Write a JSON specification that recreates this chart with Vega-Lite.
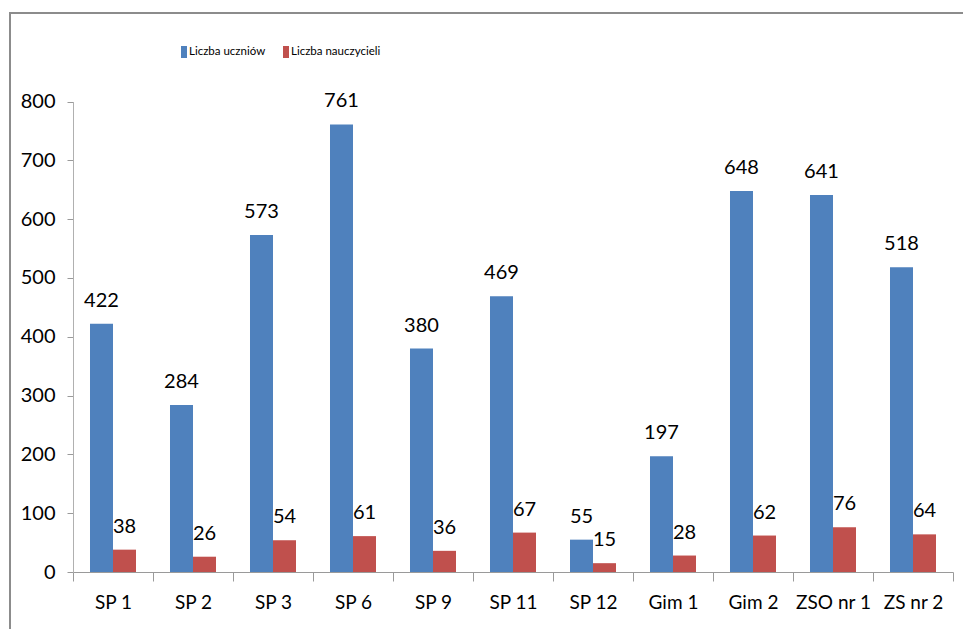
{
  "$schema": "https://vega.github.io/schema/vega-lite/v6.json",
  "autosize": "none",
  "padding": {"left": 10, "top": 13, "right": 0, "bottom": 0},
  "width": 953,
  "height": 616,
  "background": "white",
  "config": {
    "view": {"stroke": "#8c8c8c", "strokeWidth": 2, "strokeDash": [953, 1569, 616]},
    "font": "Lato, sans-serif"
  },
  "data": {
    "values": [
      {"szkola": "SP 1", "seria": "Liczba uczniów", "wartosc": 422},
      {"szkola": "SP 1", "seria": "Liczba nauczycieli", "wartosc": 38},
      {"szkola": "SP 2", "seria": "Liczba uczniów", "wartosc": 284},
      {"szkola": "SP 2", "seria": "Liczba nauczycieli", "wartosc": 26},
      {"szkola": "SP 3", "seria": "Liczba uczniów", "wartosc": 573},
      {"szkola": "SP 3", "seria": "Liczba nauczycieli", "wartosc": 54},
      {"szkola": "SP 6", "seria": "Liczba uczniów", "wartosc": 761},
      {"szkola": "SP 6", "seria": "Liczba nauczycieli", "wartosc": 61},
      {"szkola": "SP 9", "seria": "Liczba uczniów", "wartosc": 380},
      {"szkola": "SP 9", "seria": "Liczba nauczycieli", "wartosc": 36},
      {"szkola": "SP 11", "seria": "Liczba uczniów", "wartosc": 469},
      {"szkola": "SP 11", "seria": "Liczba nauczycieli", "wartosc": 67},
      {"szkola": "SP 12", "seria": "Liczba uczniów", "wartosc": 55},
      {"szkola": "SP 12", "seria": "Liczba nauczycieli", "wartosc": 15},
      {"szkola": "Gim 1", "seria": "Liczba uczniów", "wartosc": 197},
      {"szkola": "Gim 1", "seria": "Liczba nauczycieli", "wartosc": 28},
      {"szkola": "Gim 2", "seria": "Liczba uczniów", "wartosc": 648},
      {"szkola": "Gim 2", "seria": "Liczba nauczycieli", "wartosc": 62},
      {"szkola": "ZSO nr 1", "seria": "Liczba uczniów", "wartosc": 641},
      {"szkola": "ZSO nr 1", "seria": "Liczba nauczycieli", "wartosc": 76},
      {"szkola": "ZS nr 2", "seria": "Liczba uczniów", "wartosc": 518},
      {"szkola": "ZS nr 2", "seria": "Liczba nauczycieli", "wartosc": 64}
    ]
  },
  "encoding": {
    "x": {
      "field": "szkola",
      "type": "nominal",
      "sort": null,
      "scale": {"paddingInner": 0, "paddingOuter": 0, "range": [63, 943]},
      "axis": {
        "title": null,
        "offset": -57,
        "tickBand": "extent",
        "tickSize": 9,
        "tickColor": "#9a9a9a",
        "domainColor": "#9a9a9a",
        "labelAngle": 0,
        "labelFontSize": 19,
        "labelColor": "#000000",
        "labelPadding": 12
      }
    },
    "xOffset": {
      "field": "seria",
      "type": "nominal",
      "sort": ["Liczba uczniów", "Liczba nauczycieli"],
      "scale": {"paddingInner": 0, "paddingOuter": 0.739}
    },
    "y": {
      "field": "wartosc",
      "type": "quantitative",
      "scale": {"domain": [0, 800], "nice": false, "range": [559, 88.5]},
      "axis": {
        "title": null,
        "offset": -63,
        "values": [0, 100, 200, 300, 400, 500, 600, 700, 800],
        "grid": false,
        "tickSize": 6,
        "tickColor": "#9a9a9a",
        "domainColor": "#b0b0b0",
        "labelFontSize": 20,
        "labelColor": "#000000",
        "labelPadding": 12
      }
    }
  },
  "layer": [
    {
      "mark": {"type": "bar"},
      "encoding": {
        "color": {
          "field": "seria",
          "type": "nominal",
          "sort": ["Liczba uczniów", "Liczba nauczycieli"],
          "scale": {"domain": ["Liczba uczniów", "Liczba nauczycieli"], "range": ["#4F81BD", "#C0504D"]},
          "legend": {
            "title": null,
            "orient": "none",
            "direction": "horizontal",
            "legendX": 168,
            "legendY": 33,
            "padding": 0,
            "symbolType": "M-0.5,-1H0.5V1H-0.5Z",
            "symbolSize": 144,
            "symbolStrokeWidth": 0,
            "symbolOpacity": 1,
            "labelFontSize": 11.5,
            "labelColor": "#000000",
            "labelOffset": -1,
            "columnPadding": 14
          }
        }
      }
    },
    {
      "mark": {"type": "text", "baseline": "alphabetic", "dy": -17, "fontSize": 20, "color": "#000000"},
      "encoding": {
        "text": {"field": "wartosc", "type": "quantitative"}
      }
    }
  ]
}
